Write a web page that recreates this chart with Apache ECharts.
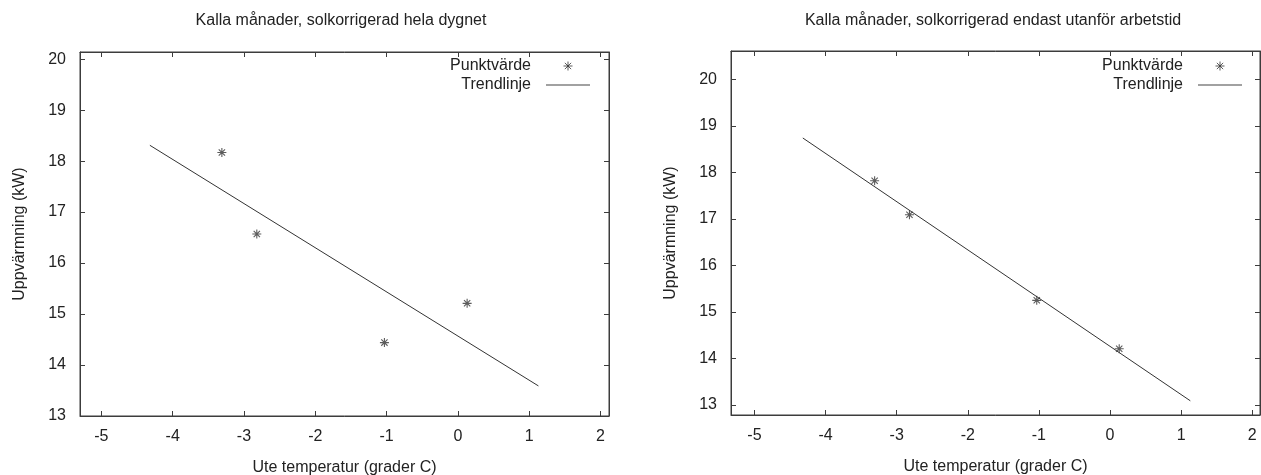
<!DOCTYPE html>
<html>
<head>
<meta charset="utf-8">
<script src="https://cdn.jsdelivr.net/npm/echarts@6/dist/echarts.min.js"></script>
<style>
html,body{margin:0;padding:0;background:#fff;}
#chart{width:1261px;height:475px;}
</style>
</head>
<body>
<div id="chart"></div>
<script>
// ---- data ----
const titles = ['Kalla månader, solkorrigerad hela dygnet', 'Kalla månader, solkorrigerad endast utanför arbetstid'];
const xName = 'Ute temperatur (grader C)';
const yName = 'Uppvärmning (kW)';
const seriesNames = ['Punktvärde', 'Trendlinje'];
const xTicks = [-5, -4, -3, -2, -1, 0, 1, 2];
const yTicks = [13, 14, 15, 16, 17, 18, 19, 20];
const pointX = [-3.31, -2.82, -1.03, 0.13];
const leftPointY = [18.17, 16.57, 14.44, 15.21];
const rightPointY = [17.82, 17.09, 15.25, 14.21];
const trendX = [-4.32, 1.13];
const leftTrendY = [18.31, 13.59];
const rightTrendY = [18.74, 13.09];

const FONT = 'Liberation Sans, Arial, sans-serif';
const FS = 16;
const AX = '#3c3c3c';
const STAR = 'path://M0,5L10,5M5,0L5,10M1.5,1.5L8.5,8.5M8.5,1.5L1.5,8.5';
const LINE_ICON = 'path://M0,0L44,0L44,1L0,1Z';

const panels = [
  {grid: {left: 80, top: 52, width: 529, height: 364}, xr: [-5.30, 2.12], yr: [13, 20.14],
   py: leftPointY, ty: leftTrendY, titleX: 341, legendRight: 1261 - 590},
  {grid: {left: 731, top: 51, width: 529, height: 364}, xr: [-5.33, 2.11], yr: [12.785, 20.61],
   py: rightPointY, ty: rightTrendY, titleX: 993, legendRight: 1261 - 1242}
];

const option = {
  animation: false,
  backgroundColor: '#fff',
  title: [], grid: [], xAxis: [], yAxis: [], legend: [], series: []
};

panels.forEach((p, i) => {
  option.title.push({
    text: titles[i], left: p.titleX, top: 13, textAlign: 'center', padding: 0,
    textStyle: {fontFamily: FONT, fontSize: FS, fontWeight: 'normal', color: '#222'}
  });
  option.grid.push(Object.assign({show: true, borderColor: AX, borderWidth: 1, backgroundColor: 'transparent',
    containLabel: false, outerBoundsMode: 'none'}, p.grid));
  const tickCommon = {show: true, inside: true, length: 5, lineStyle: {color: AX, width: 1}};
  // bottom x axis
  option.xAxis.push({
    type: 'value', gridIndex: i, position: 'bottom', min: p.xr[0], max: p.xr[1],
    axisLine: {show: true, onZero: false, lineStyle: {color: AX, width: 1}},
    axisTick: Object.assign({customValues: xTicks}, tickCommon),
    axisLabel: {customValues: xTicks, margin: 13, fontFamily: FONT, fontSize: FS, color: '#222'},
    splitLine: {show: false},
    name: xName, nameLocation: 'middle', nameGap: 44,
    nameTextStyle: {fontFamily: FONT, fontSize: FS, color: '#222'}
  });
  // top mirror x axis
  option.xAxis.push({
    type: 'value', gridIndex: i, position: 'top', min: p.xr[0], max: p.xr[1],
    axisLine: {show: true, onZero: false, lineStyle: {color: AX, width: 1}},
    axisTick: Object.assign({customValues: xTicks}, tickCommon),
    axisLabel: {show: false}, splitLine: {show: false}
  });
  // left y axis
  option.yAxis.push({
    type: 'value', gridIndex: i, position: 'left', min: p.yr[0], max: p.yr[1],
    axisLine: {show: true, onZero: false, lineStyle: {color: AX, width: 1}},
    axisTick: Object.assign({customValues: yTicks}, tickCommon),
    axisLabel: {customValues: yTicks, margin: 14, fontFamily: FONT, fontSize: FS, color: '#222'},
    splitLine: {show: false},
    name: yName, nameLocation: 'middle', nameGap: 52,
    nameTextStyle: {fontFamily: FONT, fontSize: FS, color: '#222'}
  });
  // right mirror y axis
  option.yAxis.push({
    type: 'value', gridIndex: i, position: 'right', min: p.yr[0], max: p.yr[1],
    axisLine: {show: true, onZero: false, lineStyle: {color: AX, width: 1}},
    axisTick: Object.assign({customValues: yTicks}, tickCommon),
    axisLabel: {show: false}, splitLine: {show: false}
  });
  option.legend.push({
    orient: 'vertical', align: 'right', right: p.legendRight, top: 58,
    itemWidth: 44, itemHeight: 9, itemGap: 3, padding: 0,
    selectedMode: false,
    textStyle: {fontFamily: FONT, fontSize: FS, color: '#222', padding: [0, 10, 0, 0]},
    data: [
      {name: seriesNames[0], icon: STAR, itemStyle: {color: 'transparent', borderColor: '#333', borderWidth: 1}},
      {name: seriesNames[1], icon: LINE_ICON, itemStyle: {color: '#444', borderWidth: 0}}
    ]
  });
  option.series.push({
    name: seriesNames[0], type: 'scatter', xAxisIndex: 2 * i, yAxisIndex: 2 * i,
    symbol: STAR, symbolSize: 9,
    itemStyle: {color: 'transparent', borderColor: '#333', borderWidth: 1.1},
    data: pointX.map((x, k) => [x, p.py[k]])
  });
  option.series.push({
    name: seriesNames[1], type: 'line', xAxisIndex: 2 * i, yAxisIndex: 2 * i,
    symbol: 'none', showSymbol: false,
    lineStyle: {color: '#333', width: 1},
    itemStyle: {color: '#333'},
    data: trendX.map((x, k) => [x, p.ty[k]])
  });
});

const chart = echarts.init(document.getElementById('chart'), null, {renderer: 'canvas'});
chart.setOption(option);
</script>
</body>
</html>
